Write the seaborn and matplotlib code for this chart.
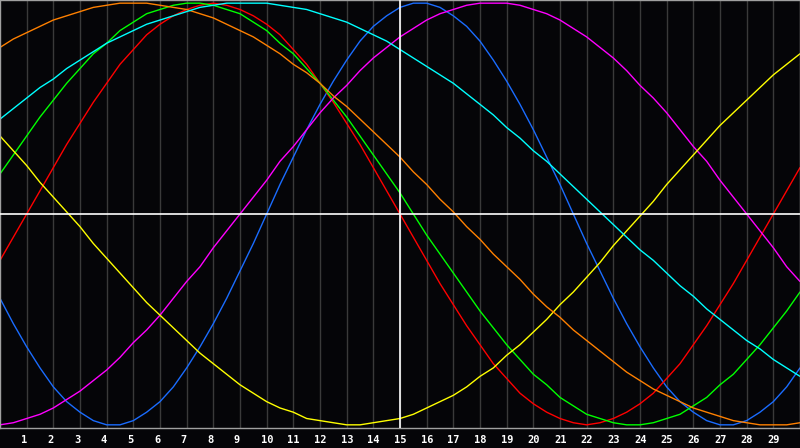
import numpy as np
import pandas as pd
import seaborn as sns
import matplotlib.pyplot as plt
import matplotlib.transforms as mtransforms

# readings every half day, 0 = left edge, 30 = right edge
days = np.arange(0, 30.5, 0.5)
today = 15
tick_days = list(range(1, 30))

# cycle values (one row = 5 days)
physical = [-0.40, -0.52, -0.63, -0.73, -0.82, -0.89, -0.94, -0.98, -1.00, -1.00,
            -0.98, -0.94, -0.89, -0.82, -0.73, -0.63, -0.52, -0.40, -0.27, -0.14,
            0.00, 0.14, 0.27, 0.40, 0.52, 0.63, 0.73, 0.82, 0.89, 0.94,
            0.98, 1.00, 1.00, 0.98, 0.94, 0.89, 0.82, 0.73, 0.63, 0.52,
            0.40, 0.27, 0.14, 0.00, -0.14, -0.27, -0.40, -0.52, -0.63, -0.73,
            -0.82, -0.89, -0.94, -0.98, -1.00, -1.00, -0.98, -0.94, -0.89, -0.82,
            -0.73]
emotional = [-0.22, -0.11, 0.00, 0.11, 0.22, 0.33, 0.43, 0.53, 0.62, 0.71,
             0.78, 0.85, 0.90, 0.94, 0.97, 0.99, 1.00, 0.99, 0.97, 0.94,
             0.90, 0.85, 0.78, 0.71, 0.62, 0.53, 0.43, 0.33, 0.22, 0.11,
             0.00, -0.11, -0.22, -0.33, -0.43, -0.53, -0.62, -0.71, -0.78, -0.85,
             -0.90, -0.94, -0.97, -0.99, -1.00, -0.99, -0.97, -0.94, -0.90, -0.85,
             -0.78, -0.71, -0.62, -0.53, -0.43, -0.33, -0.22, -0.11, 0.00, 0.11,
             0.22]
intellectual = [0.19, 0.28, 0.37, 0.46, 0.54, 0.62, 0.69, 0.76, 0.81, 0.87,
                0.91, 0.95, 0.97, 0.99, 1.00, 1.00, 0.99, 0.97, 0.95, 0.91,
                0.87, 0.81, 0.76, 0.69, 0.62, 0.54, 0.46, 0.37, 0.28, 0.19,
                0.10, 0.00, -0.10, -0.19, -0.28, -0.37, -0.46, -0.54, -0.62, -0.69,
                -0.76, -0.81, -0.87, -0.91, -0.95, -0.97, -0.99, -1.00, -1.00, -0.99,
                -0.97, -0.95, -0.91, -0.87, -0.81, -0.76, -0.69, -0.62, -0.54, -0.46,
                -0.37]
intuitive = [-1.00, -0.99, -0.97, -0.95, -0.92, -0.88, -0.84, -0.79, -0.74, -0.68,
             -0.61, -0.55, -0.48, -0.40, -0.32, -0.25, -0.16, -0.08, 0.00, 0.08,
             0.16, 0.25, 0.32, 0.40, 0.48, 0.55, 0.61, 0.68, 0.74, 0.79,
             0.84, 0.88, 0.92, 0.95, 0.97, 0.99, 1.00, 1.00, 1.00, 0.99,
             0.97, 0.95, 0.92, 0.88, 0.84, 0.79, 0.74, 0.68, 0.61, 0.55,
             0.48, 0.40, 0.32, 0.25, 0.16, 0.08, 0.00, -0.08, -0.16, -0.25,
             -0.32]
aesthetic = [0.37, 0.30, 0.23, 0.15, 0.08, 0.01, -0.06, -0.14, -0.21, -0.28,
             -0.35, -0.42, -0.48, -0.54, -0.60, -0.66, -0.71, -0.76, -0.81, -0.85,
             -0.89, -0.92, -0.94, -0.97, -0.98, -0.99, -1.00, -1.00, -0.99, -0.98,
             -0.97, -0.95, -0.92, -0.89, -0.86, -0.82, -0.77, -0.73, -0.67, -0.62,
             -0.56, -0.50, -0.43, -0.37, -0.30, -0.23, -0.15, -0.08, -0.01, 0.06,
             0.14, 0.21, 0.28, 0.35, 0.42, 0.48, 0.54, 0.60, 0.66, 0.71,
             0.76]
awareness = [0.79, 0.83, 0.86, 0.89, 0.92, 0.94, 0.96, 0.98, 0.99, 1.00,
             1.00, 1.00, 0.99, 0.98, 0.97, 0.95, 0.93, 0.90, 0.87, 0.84,
             0.80, 0.76, 0.71, 0.67, 0.62, 0.56, 0.51, 0.45, 0.39, 0.33,
             0.27, 0.20, 0.14, 0.07, 0.01, -0.06, -0.12, -0.19, -0.25, -0.31,
             -0.38, -0.44, -0.49, -0.55, -0.60, -0.65, -0.70, -0.75, -0.79, -0.83,
             -0.86, -0.89, -0.92, -0.94, -0.96, -0.98, -0.99, -1.00, -1.00, -1.00,
             -0.99]
spiritual = [0.45, 0.50, 0.55, 0.60, 0.64, 0.69, 0.73, 0.77, 0.81, 0.84,
             0.87, 0.90, 0.92, 0.94, 0.96, 0.98, 0.99, 1.00, 1.00, 1.00,
             1.00, 0.99, 0.98, 0.97, 0.95, 0.93, 0.91, 0.88, 0.85, 0.82,
             0.78, 0.74, 0.70, 0.66, 0.62, 0.57, 0.52, 0.47, 0.41, 0.36,
             0.30, 0.25, 0.19, 0.13, 0.07, 0.01, -0.05, -0.11, -0.17, -0.22,
             -0.28, -0.34, -0.39, -0.45, -0.50, -0.55, -0.60, -0.64, -0.69, -0.73,
             -0.77]

series = {
    "physical": physical,
    "emotional": emotional,
    "intellectual": intellectual,
    "intuitive": intuitive,
    "aesthetic": aesthetic,
    "awareness": awareness,
    "spiritual": spiritual,
}
colors = {
    "physical": "#1a6cff",
    "emotional": "#ff0000",
    "intellectual": "#00ff00",
    "intuitive": "#ff00ff",
    "aesthetic": "#ffff00",
    "awareness": "#ff8000",
    "spiritual": "#00ffff",
}

# long table for seaborn
rows = []
for name, vals in series.items():
    for d, v in zip(days, vals):
        rows.append({"day": d, "value": v, "cycle": name})
df = pd.DataFrame(rows)

sns.set_style("dark", {"axes.facecolor": "#050508", "figure.facecolor": "#050508",
                       "axes.edgecolor": "#a0a0a0"})
plt.rcParams["font.family"] = ["DejaVu Sans Mono"]

fig = plt.figure(figsize=(8, 4.48), dpi=100)
ax = fig.add_axes([0, 20 / 448, 1, 428 / 448])

# day grid
for d in tick_days:
    ax.axvline(d, color="#3a3a3a", lw=1, zorder=0)

sns.lineplot(data=df, x="day", y="value", hue="cycle", palette=colors,
             linewidth=1, legend=False, ax=ax, zorder=2)

ax.axhline(0, color="white", lw=1.2, zorder=3)
ax.axvline(today, color="white", lw=1.2, zorder=3)

ax.set_xlim(0, 30)
ax.set_ylim(-1.015, 1.015)
ax.set_xlabel("")
ax.set_ylabel("")
ax.set_yticks([])
ax.set_xticks(tick_days)
ax.set_xticklabels([str(d) for d in tick_days], color="white",
                   fontsize=7.5, fontweight="bold", ha="left")
ax.tick_params(axis="x", length=0, pad=5)
# labels start a few pixels left of their grid line
shift = mtransforms.ScaledTranslation(-6 / 100, 0, fig.dpi_scale_trans)
for lbl in ax.get_xticklabels():
    lbl.set_transform(lbl.get_transform() + shift)
for side in ax.spines.values():
    side.set_color("#a0a0a0")
    side.set_linewidth(1)

fig.savefig("out.png", dpi=100, facecolor="#050508")
